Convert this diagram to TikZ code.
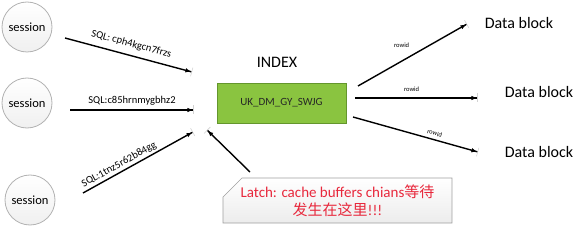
\documentclass[tikz,border=0pt]{standalone}
\usepackage{fontspec}
\setmainfont{Carlito}
\newfontfamily\zhfont{Noto Sans CJK SC}
\usepackage{xcolor}
\usepackage{tikz}
\usetikzlibrary{arrows.meta,calc}

\definecolor{idxgreen}{RGB}{138,196,64}
\definecolor{idxborder}{RGB}{100,150,45}
\definecolor{latchred}{RGB}{232,40,60}

\tikzset{
  session/.style={circle,draw=gray!60,top color=white,bottom color=gray!12,line width=0.8pt,minimum size=50pt,inner sep=0pt,font=\fontsize{12.5}{14}\selectfont},
  ptr/.style={line width=1.4pt,-{Latex[length=6pt,width=4.5pt] Bar[gray!35,width=9pt,line width=0.6pt]}},
  sqllabel/.style={font=\fontsize{10.5}{12}\selectfont,sloped,inner sep=1pt},
  rowidlabel/.style={font=\fontsize{6.5}{8}\selectfont,inner sep=0.5pt},
  blocklabel/.style={font=\fontsize{16}{19}\selectfont}
}

\begin{document}
\begin{tikzpicture}[x=1pt,y=-1pt]
\useasboundingbox (0,0) rectangle (576,227);
\node[session] (s1) at (27,27) {session};
\node[session] (s2) at (27,103) {session};
\node[session] (s3) at (30,200) {session};

\node[font=\fontsize{16}{19}\selectfont] (idxtitle) at (277,62) {INDEX};
\node[draw=idxborder,fill=idxgreen,line width=0.8pt,minimum width=129pt,minimum height=40pt,
  text=black!85,font=\fontsize{11}{13}\selectfont] (idx) at (281.5,103) {UK\_DM\_GY\_SWJG};

\node[blocklabel] (d1) at (519,23) {Data block};
\node[blocklabel] (d2) at (539,92) {Data block};
\node[blocklabel] (d3) at (539,152) {Data block};

\coordinate (lnw) at (223,178);
\coordinate (lse) at (452,223);
\draw[draw=gray!75,top color=white,bottom color=gray!15,line width=0.7pt]
  ($(lnw)+(19,0)$) -- (lnw -| lse) -- (lse) -- (lse -| lnw) -- ($(lnw)+(0,19)$) -- cycle;
\node[align=center,text=latchred,font=\fontsize{15}{18}\selectfont] (latch) at ($(lnw)!0.5!(lse)$)
  {Latch: cache buffers chians{\zhfont 等待}\\{\zhfont 发生在这里}!!!};

\coordinate (a1) at (65,38);
\coordinate (b1) at (192,72);
\coordinate (a2) at (70,110);
\coordinate (b2) at (194,110);
\coordinate (a3) at (83,193);
\coordinate (b3) at (193,132);
\coordinate (r1) at (358,86);
\coordinate (e1) at (467,24);
\coordinate (r2) at (355,98);
\coordinate (e2) at (478,98);
\coordinate (r3) at (353,117);
\coordinate (e3) at (478,152);
\coordinate (la) at (250,172);
\coordinate (lb) at (207,130);

\draw[ptr] (a1) -- node[sqllabel,midway,above=5pt] {SQL: cph4kgcn7frzs} (b1);
\draw[ptr] (a2) -- node[sqllabel,midway,above=3pt] {SQL:c85hrnmygbhz2} (b2);
\draw[ptr] (a3) -- node[sqllabel,pos=0.36,above=1pt] {SQL:1tnz5r62b84gg} (b3);

\draw[ptr] (r1) -- node[rowidlabel,pos=0.4,yshift=16pt] {rowid} (e1);
\draw[ptr] (r2) -- node[rowidlabel,pos=0.46,yshift=9pt] {rowid} (e2);
\draw[ptr] (r3) -- node[rowidlabel,pos=0.64,sloped,above=3pt] {rowid} (e3);

\draw[ptr] (la) -- (lb);
\end{tikzpicture}
\end{document}
